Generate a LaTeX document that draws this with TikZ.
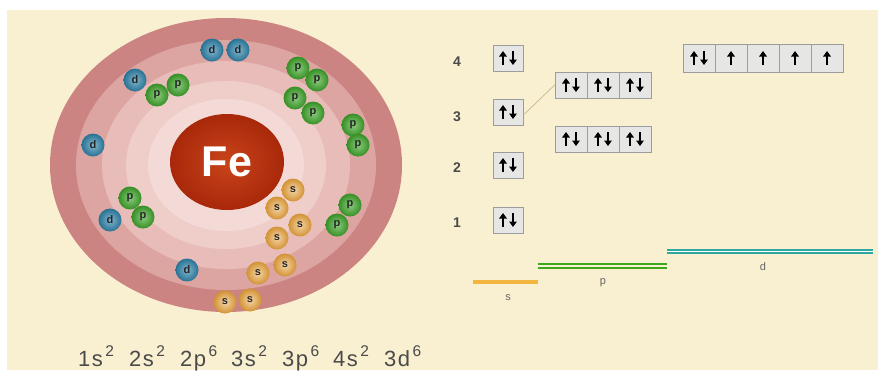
\documentclass[tikz,border=0pt]{standalone}
\usepackage{fontspec}
\setmainfont{Liberation Sans}
\usetikzlibrary{shapes.geometric, arrows.meta}

\definecolor{paper}{HTML}{F8F0D0}
\definecolor{ringA}{HTML}{CC8483}
\definecolor{ringB}{HTML}{DDA5A2}
\definecolor{ringC}{HTML}{E8BDB9}
\definecolor{ringD}{HTML}{EFCDC9}
\definecolor{ringE}{HTML}{F4DAD6}
\definecolor{nucl}{HTML}{A8280A}
\definecolor{nuclin}{HTML}{C9441A}
\definecolor{sball}{HTML}{E9A23A}
\definecolor{pball}{HTML}{3FA82A}
\definecolor{dball}{HTML}{2F86AD}
\definecolor{boxfill}{HTML}{E6E6E4}
\definecolor{boxline}{HTML}{9C9C9C}
\definecolor{link}{HTML}{C9B88E}
\definecolor{sline}{HTML}{F2B640}
\definecolor{pline}{HTML}{3EA81C}
\definecolor{dline}{HTML}{30A8A2}
\definecolor{ink}{HTML}{4A4A4A}

% one term of the configuration: shell, subshell, occupancy
\newcommand\orbterm[3]{\makebox[51pt][l]{#1\kern1.5pt#2\kern2.5pt\raisebox{9.5pt}{\fontsize{15.5}{15.5}\selectfont #3}}}

\tikzset{
  elec/.style={circle, minimum size=23pt, inner sep=0pt,
    font=\bfseries\fontsize{11}{11}\selectfont, text=black!85},
  selec/.style={elec, inner color=sball!45!white, outer color=sball!90!black},
  pelec/.style={elec, inner color=pball!60!white, outer color=pball!85!black},
  delec/.style={elec, inner color=dball!60!white, outer color=dball!85!black},
  spin/.style={draw=black, line width=2.1pt, line cap=butt,
    -{Triangle[length=5.5pt, width=7.5pt]}},
  cell/.style={draw=boxline, fill=boxfill, line width=0.8pt, inner sep=0pt,
    minimum height=26pt},
  pair/.style={path picture={
    \draw[spin] ([shift={(-5,7)}]path picture bounding box.center) -- ++(0,-14);
    \draw[spin] ([shift={(5,-7)}]path picture bounding box.center) -- ++(0,14);}},
  single/.style={path picture={
    \draw[spin] ([shift={(0,7)}]path picture bounding box.center) -- ++(0,-14);}},
  scell/.style={cell, minimum width=30pt, pair},
  pcell/.style={cell, minimum width=32pt, pair},
  dcell/.style={cell, minimum width=32pt, minimum height=28pt},
  shellnum/.style={font=\bfseries\fontsize{14}{14}\selectfont, text=ink},
  sublabel/.style={font=\fontsize{11}{11}\selectfont, text=ink!85},
}

\begin{document}
\begin{tikzpicture}[x=1pt, y=-1pt]
\useasboundingbox (0,0) rectangle (878,384);
\fill[white] (0,0) rectangle (878,384);
\fill[paper] (7,10) rectangle (878,370);

% shells of the atom
\begin{scope}[shift={(226,165)}]
  \fill[ringA] (0,0) ellipse [x radius=176, y radius=147];
  \fill[ringB] (0,0) ellipse [x radius=150, y radius=125];
  \fill[ringC] (0,0) ellipse [x radius=124, y radius=104];
  \fill[ringD] (0,0) ellipse [x radius=100, y radius=84];
  \fill[ringE] (0,0) ellipse [x radius=78, y radius=66];
\end{scope}

% nucleus
\node[ellipse, minimum width=114pt, minimum height=96pt, inner sep=0pt,
  inner color=nuclin, outer color=nucl,
  font=\bfseries\fontsize{43}{43}\selectfont, text=white]
  (fe) at (227,162) {Fe};

% d electrons
\node[delec] (d1) at (212,50) {d};
\node[delec] (d2) at (238,50) {d};
\node[delec] (d3) at (135,80) {d};
\node[delec] (d4) at (93,145) {d};
\node[delec] (d5) at (110,220) {d};
\node[delec] (d6) at (187,270) {d};

% p electrons
\node[pelec] (p1) at (178,85) {p};
\node[pelec] (p2) at (157,95) {p};
\node[pelec] (p3) at (298,68) {p};
\node[pelec] (p4) at (317,80) {p};
\node[pelec] (p5) at (295,98) {p};
\node[pelec] (p6) at (313,113) {p};
\node[pelec] (p7) at (353,125) {p};
\node[pelec] (p8) at (358,145) {p};
\node[pelec] (p9) at (130,198) {p};
\node[pelec] (p10) at (143,217) {p};
\node[pelec] (p11) at (350,205) {p};
\node[pelec] (p12) at (337,225) {p};

% s electrons
\node[selec] (s1) at (293,190) {s};
\node[selec] (s2) at (277,208) {s};
\node[selec] (s3) at (300,225) {s};
\node[selec] (s4) at (277,238) {s};
\node[selec] (s5) at (285,265) {s};
\node[selec] (s6) at (258,273) {s};
\node[selec] (s7) at (225,302) {s};
\node[selec] (s8) at (250,300) {s};

% shell numbers
\node[shellnum] (n4) at (457,62) {4};
\node[shellnum] (n3) at (457,117) {3};
\node[shellnum] (n2) at (457,168) {2};
\node[shellnum] (n1) at (457,223) {1};

% s orbitals
\node[scell] (o4s) at (508,58) {};
\node[scell] (o3s) at (508,112) {};
\node[scell] (o2s) at (508,165) {};
\node[scell] (o1s) at (508,220) {};

% p orbitals
\node[pcell] (o3pa) at (571,85) {};
\node[pcell] (o3pb) at (603,85) {};
\node[pcell] (o3pc) at (635,85) {};
\node[pcell] (o2pa) at (571,139) {};
\node[pcell] (o2pb) at (603,139) {};
\node[pcell] (o2pc) at (635,139) {};

% d orbitals
\node[dcell, pair] (o3da) at (699,58) {};
\node[dcell, single] (o3db) at (731,58) {};
\node[dcell, single] (o3dc) at (763,58) {};
\node[dcell, single] (o3dd) at (795,58) {};
\node[dcell, single] (o3de) at (827,58) {};

% link between the n=3 orbitals
\draw[link, line width=0.7pt] ([yshift=-3pt]o3s.east) -- (o3pa.west);

% energy levels
\coordinate (sa) at (473,282);
\coordinate (sb) at (538,282);
\coordinate (pa1) at (538,263.5);
\coordinate (pb1) at (667,263.5);
\coordinate (pa2) at (538,268);
\coordinate (pb2) at (667,268);
\coordinate (da) at (667,251.5);
\coordinate (db) at (873,251.5);
\draw[sline, line width=3.2pt] (sa) -- (sb);
\draw[pline, line width=2pt] (pa1) -- (pb1);
\draw[pline, line width=2pt] (pa2) -- (pb2);
\draw[dline, line width=4.2pt] (da) -- (db);
\draw[white, line width=1.4pt] (da) -- (db);
\node[sublabel] (ls) at (508,298) {s};
\node[sublabel] (lp) at (603,283) {p};
\node[sublabel] (ld) at (763,267) {d};

% electron configuration
\node[anchor=base west, inner sep=0pt, text=ink,
  font=\fontsize{22}{22}\selectfont] (cfg) at (78,366)
  {\orbterm{1}{s}{2}\orbterm{2}{s}{2}\orbterm{2}{p}{6}\orbterm{3}{s}{2}\orbterm{3}{p}{6}\orbterm{4}{s}{2}\orbterm{3}{d}{6}};
\end{tikzpicture}
\end{document}
